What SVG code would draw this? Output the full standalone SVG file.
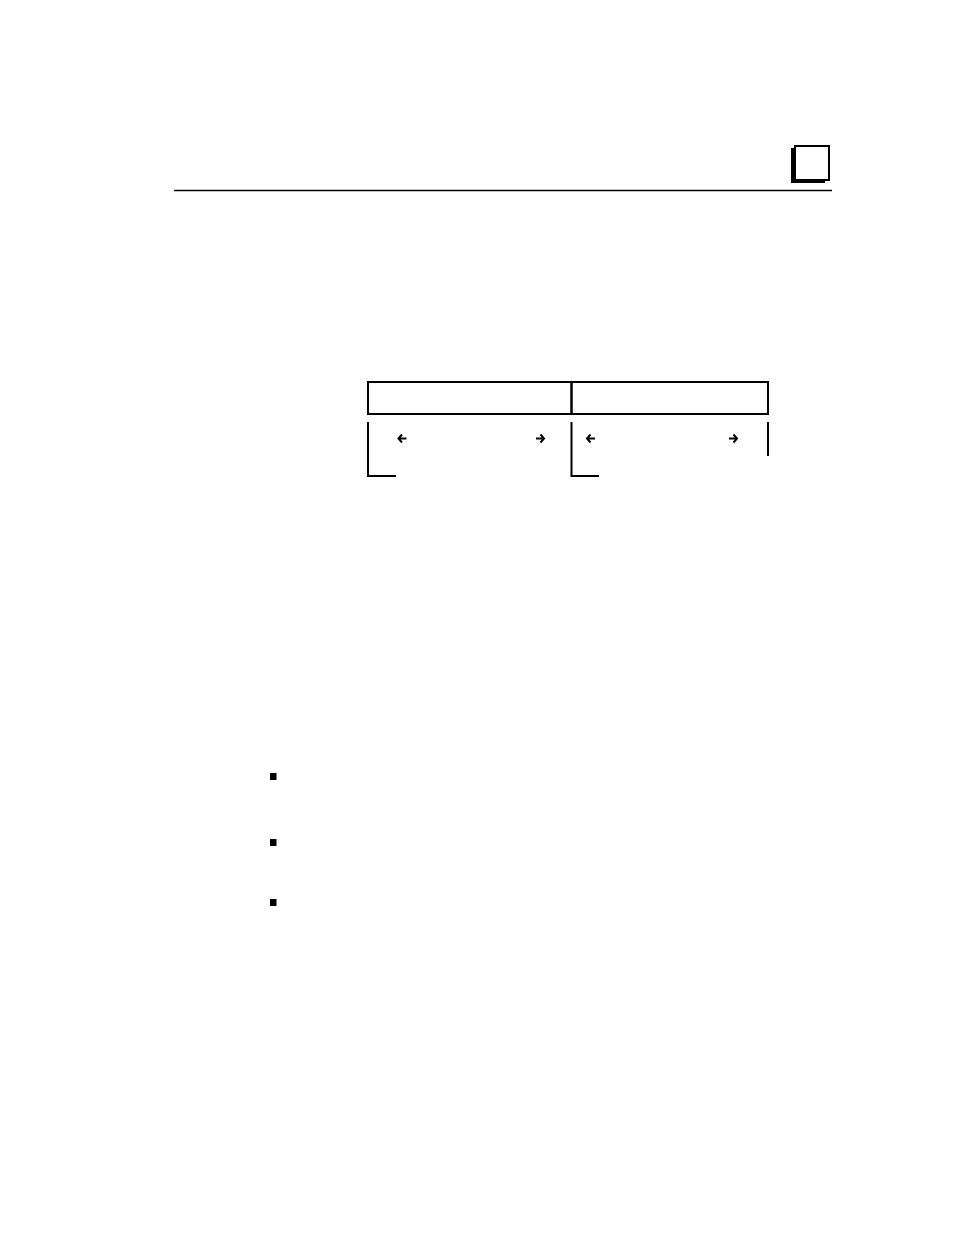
<svg xmlns="http://www.w3.org/2000/svg" width="954" height="1235" viewBox="0 0 954 1235">
<style>
.ln{stroke:#000;stroke-width:2;fill:none}
.arr{stroke:#000;stroke-width:2;fill:none;stroke-linecap:butt;stroke-linejoin:miter}
.bul{fill:#000}
</style>
<rect width="954" height="1235" fill="#fff"/>
<g id="header">
<rect x="791" y="148" width="34" height="35" fill="#000"/>
<rect x="795" y="146" width="34" height="34" fill="#fff" stroke="#000" stroke-width="2"/>
<line x1="174" y1="190.5" x2="832" y2="190.5" stroke="#000" stroke-width="1.5"/>
</g>
<g id="field1">
<rect x="368" y="382" width="203.5" height="32" class="ln"/>
</g>
<g id="field2">
<rect x="571.5" y="382" width="196.5" height="32" class="ln"/>
</g>
<g id="connectors">
<polyline points="368,422 368,476 396,476" class="ln"/>
<polyline points="571.5,422 571.5,476 599,476" class="ln"/>
<line x1="768" y1="422" x2="768" y2="456" class="ln"/>
<path class="arr" d="M398.5,438.5 H406.5 M402,434.5 L398.5,438.5 L402,442.5"/>
<path class="arr" d="M544,438.5 H536 M540.5,434.5 L544,438.5 L540.5,442.5"/>
<path class="arr" d="M587,438.5 H595 M590.5,434.5 L587,438.5 L590.5,442.5"/>
<path class="arr" d="M737,438.5 H729 M733.5,434.5 L737,438.5 L733.5,442.5"/>
</g>
<g id="bullets">
<rect x="270" y="773" width="6.5" height="7" class="bul"/>
<rect x="270" y="839" width="6.5" height="7" class="bul"/>
<rect x="270" y="899" width="6.5" height="7" class="bul"/>
</g>
</svg>
